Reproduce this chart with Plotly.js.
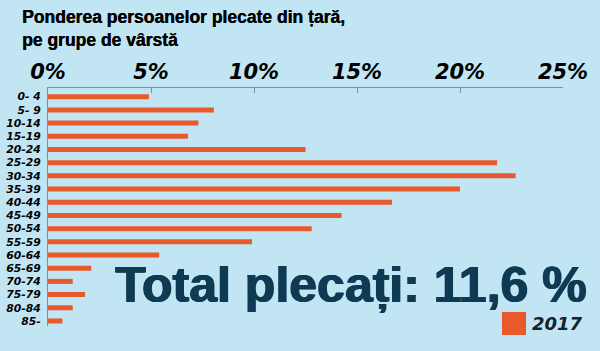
<!DOCTYPE html>
<html>
<head>
<meta charset="utf-8">
<script src="https://cdn.plot.ly/plotly-3.0.1.min.js"></script>
<style>html,body{margin:0;padding:0;background:#c2e5f3;}#chart{width:600px;height:351px;}</style>
</head>
<body>
<div id="chart"></div>
<script>
const ageGroups = ["0- 4","5- 9","10-14","15-19","20-24","25-29","30-34","35-39","40-44","45-49","50-54","55-59","60-64","65-69","70-74","75-79","80-84","85-"];
const share2017 = [4.9, 8.05, 7.3, 6.8, 12.5, 21.8, 22.7, 20.0, 16.7, 14.25, 12.8, 9.9, 5.4, 2.1, 1.2, 1.8, 1.2, 0.7];
const xTickVals = [0, 5, 10, 15, 20, 25];
const xTickText = ["0%", "5%", "10%", "15%", "20%", "25%"];

const bg = '#c2e5f3';
const axisCol = '#7f9099';
const navy = '#0e3b53';

const trace = {
  type: 'bar',
  orientation: 'h',
  x: share2017,
  y: ageGroups,
  name: '2017',
  marker: {color: '#e85a2c', line: {width: 0}},
  hoverinfo: 'x+y',
  showlegend: false
};

const layout = {
  width: 600, height: 351,
  paper_bgcolor: bg, plot_bgcolor: bg,
  margin: {l: 48, r: 37, t: 88, b: 25, pad: 0},
  bargap: 0.62,
  title: {
    text: '<b>Ponderea persoanelor plecate din țară,</b><br><b>pe grupe de vârstă</b>',
    x: 22/600, xanchor: 'left', xref: 'container',
    y: 1 - 23/351, yanchor: 'top', yref: 'container',
    font: {family: 'Liberation Sans, Arial, sans-serif', size: 17.5, weight: 700, color: '#000',
           shadow: '0.4px 0 0 #000'}
  },
  xaxis: {
    side: 'top', range: [0, 25], tickvals: xTickVals, ticktext: xTickText,
    tickfont: {family: 'DejaVu Sans', size: 21, weight: 700, style: 'italic', color: '#000'},
    ticks: 'inside', ticklen: 5, tickcolor: axisCol, tickwidth: 1,
    showline: true, linecolor: axisCol, linewidth: 1,
    showgrid: false, zeroline: false, fixedrange: true
  },
  yaxis: {
    type: 'category', categoryarray: ageGroups, range: [17.38, -0.66],
    tickfont: {family: 'DejaVu Sans', size: 10.8, weight: 700, style: 'italic', color: '#000'},
    ticks: '', showline: true, linecolor: axisCol, linewidth: 1,
    showgrid: false, zeroline: false, fixedrange: true, ticklabelstandoff: 4
  },
  shapes: [{
    type: 'rect', xref: 'paper', yref: 'paper',
    x0: (502-48)/515, x1: (526-48)/515, y0: (326-335)/238, y1: (326-312)/238,
    fillcolor: '#e85a2c', line: {width: 0}
  }],
  annotations: [
    {
      text: '<b>Total plecați: 11,6 %</b>', xref: 'paper', yref: 'paper',
      x: (588-48)/515, xanchor: 'right', y: (326-285)/238, yanchor: 'middle',
      showarrow: false,
      font: {family: 'Liberation Sans, Arial, sans-serif', size: 50, weight: 700, color: navy,
             shadow: '1px 0 0 ' + navy + ', -0.5px 0 0 ' + navy}
    },
    {
      text: '<b><i>2017</i></b>', xref: 'paper', yref: 'paper',
      x: (530-48)/515, xanchor: 'left', y: (326-323.5)/238, yanchor: 'middle',
      showarrow: false,
      font: {family: 'DejaVu Sans', size: 18, weight: 700, style: 'italic', color: '#15232d'}
    }
  ]
};

Plotly.newPlot('chart', [trace], layout, {displayModeBar: false, staticPlot: true});
</script>
</body>
</html>
